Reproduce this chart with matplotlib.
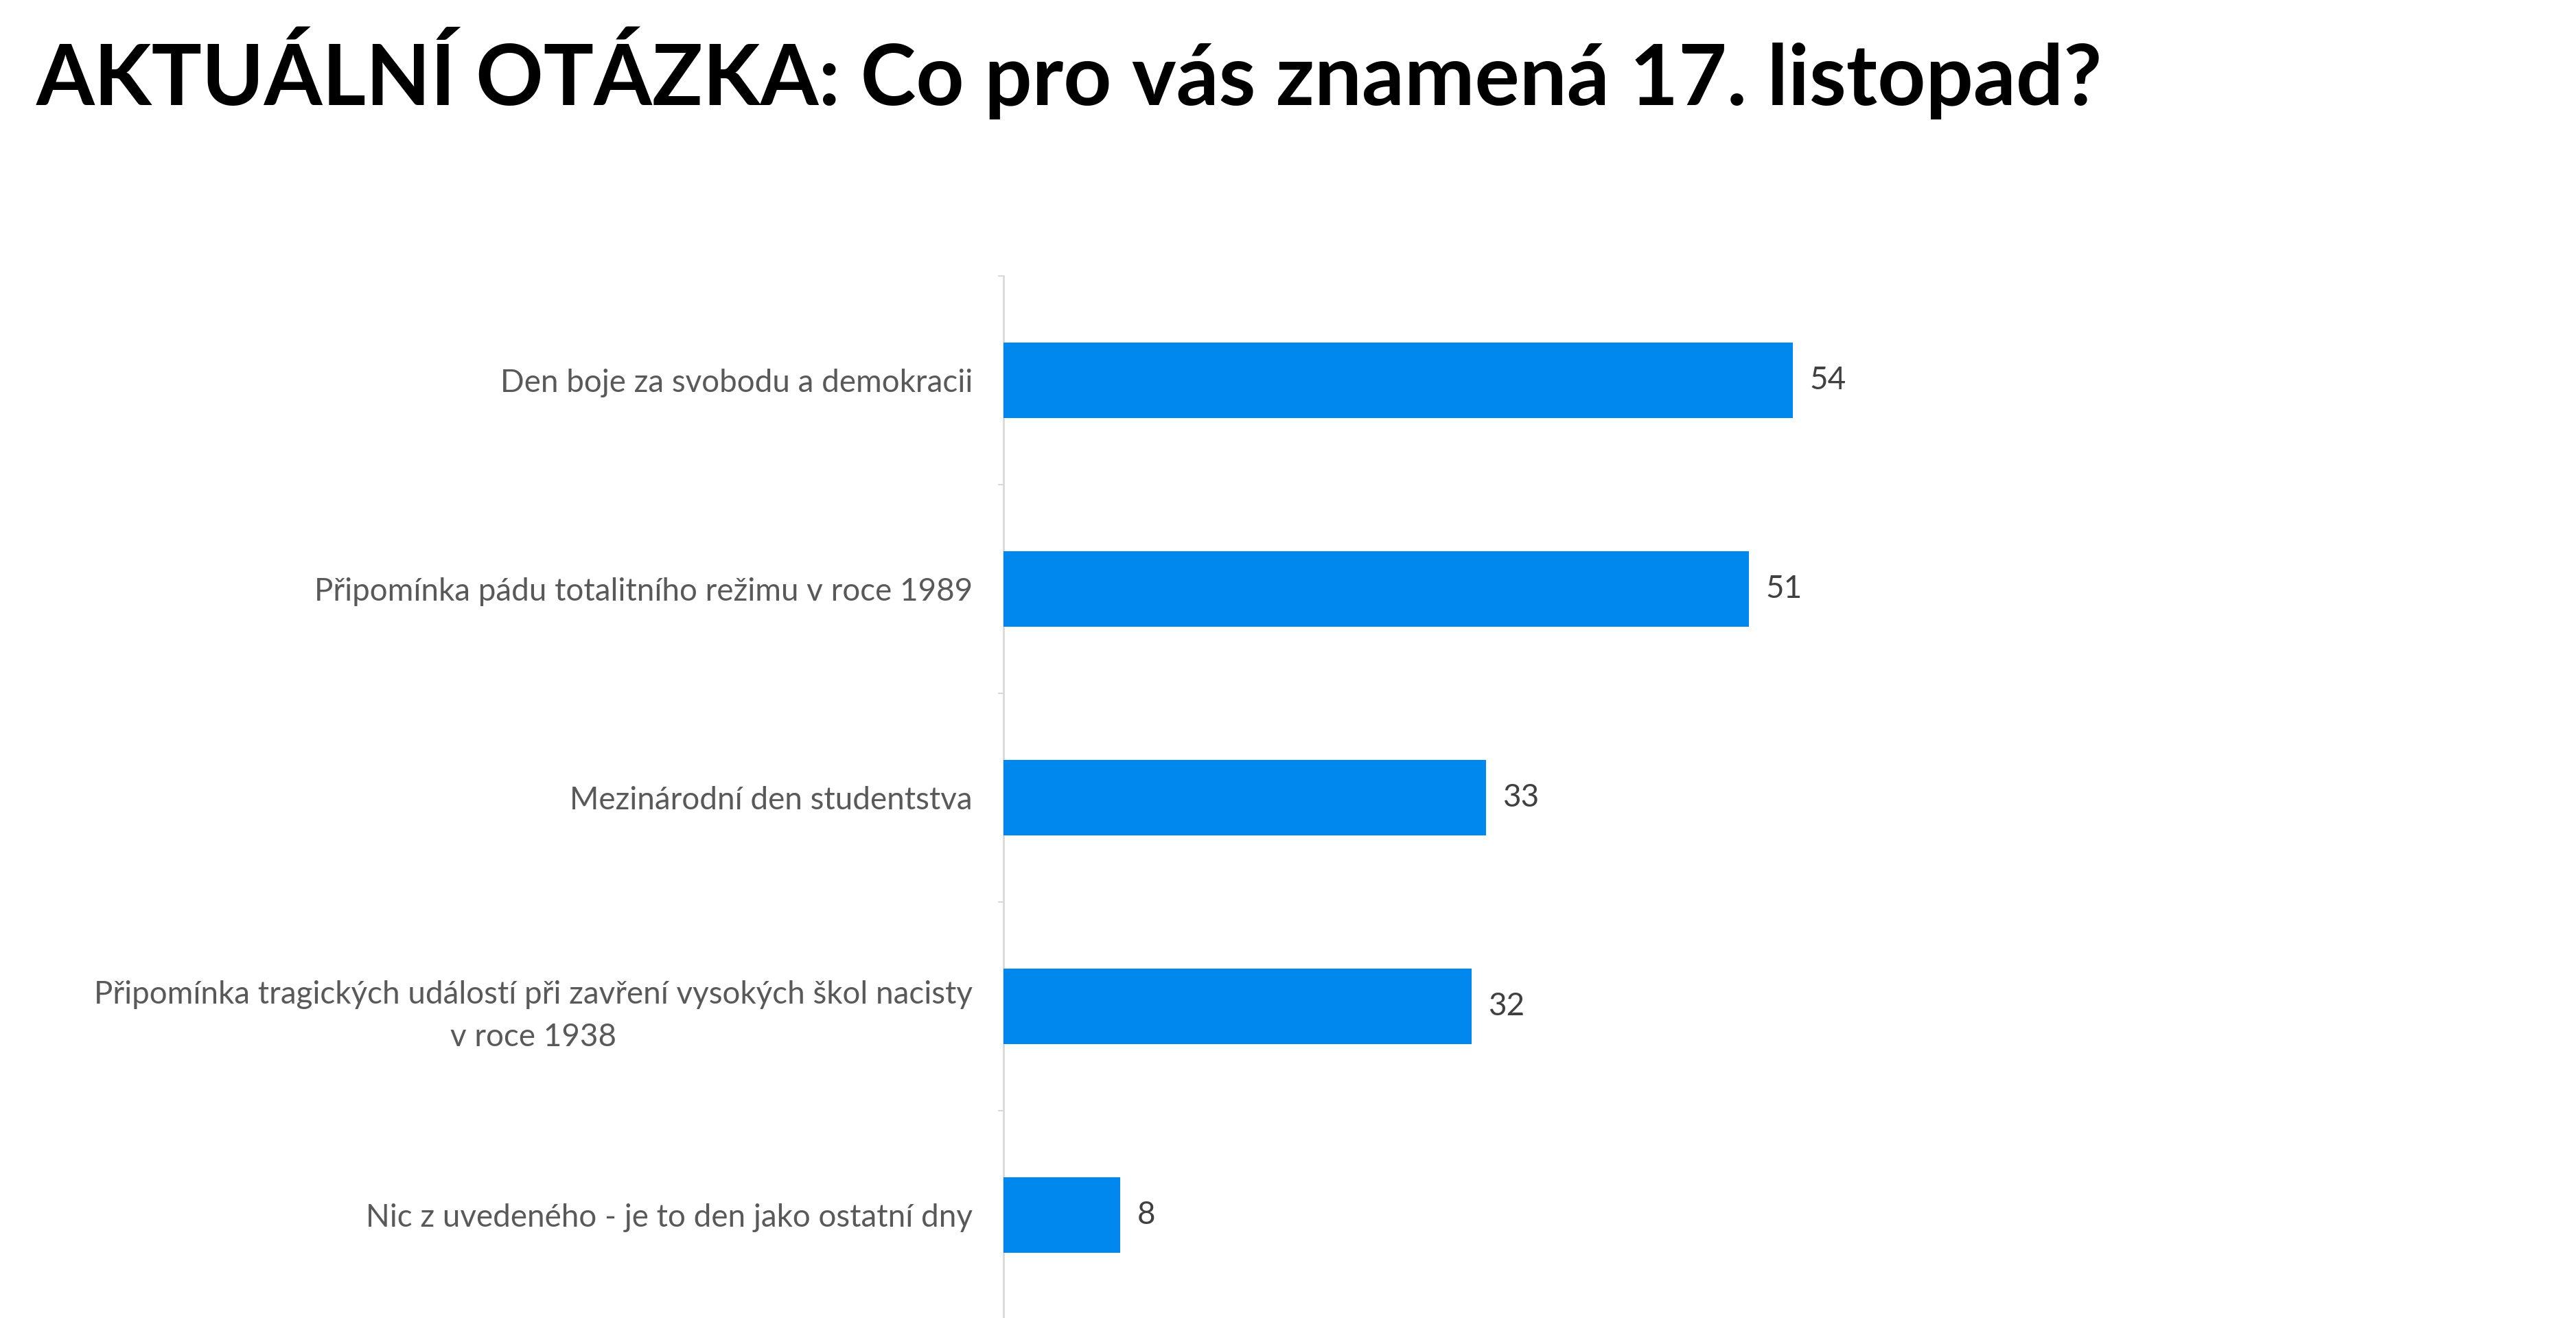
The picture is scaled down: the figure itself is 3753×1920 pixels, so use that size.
import matplotlib
matplotlib.use("Agg")
import matplotlib.pyplot as plt
import numpy as np

categories = [
    "Den boje za svobodu a demokracii",
    "Připomínka pádu totalitního režimu v roce 1989",
    "Mezinárodní den studentstva",
    "Připomínka tragických událostí při zavření vysokých škol nacisty\nv roce 1938",
    "Nic z uvedeného - je to den jako ostatní dny",
]
values = [54, 51, 33, 32, 8]
title = "AKTUÁLNÍ OTÁZKA: Co pro vás znamená 17. listopad?"

W, H, DPI = 3753, 1920, 100
fig = plt.figure(figsize=(W / DPI, H / DPI), dpi=DPI)
fig.patch.set_facecolor("white")
renderer = fig.canvas.get_renderer()

FONT = "Lato"

def fit_size(text, target_px, weight="normal", start=40):
    t = fig.text(0, 0, text, fontsize=start, family=FONT, weight=weight)
    w = t.get_window_extent(renderer=renderer).width
    t.remove()
    return start * target_px / w

# Title
tsize = fit_size(title, 3010, weight="bold", start=80)
fig.text(53 / W, 1 - 153 / H, title, fontsize=tsize, family=FONT,
         weight="bold", color="black", ha="left", va="baseline")

# Axes
left_px, top_px, bottom_px = 1462, 402, 1922
px_per_unit = 21.3
xmax = 100
ax = fig.add_axes([left_px / W, 1 - bottom_px / H,
                   px_per_unit * xmax / W, (bottom_px - top_px) / H])
y = np.arange(len(categories))
ax.barh(y, values, height=0.36, color="#0088EE", zorder=3)
ax.set_xlim(0, xmax)
ax.set_ylim(len(categories) - 0.5, -0.5)

lsize = fit_size(categories[0], 687, start=30)
ax.set_yticks(y)
ax.set_yticklabels(categories, fontsize=lsize, family=FONT, color="#595959",
                   multialignment="center", linespacing=1.6)
ax.tick_params(axis="y", which="major", length=0, pad=45 * 72 / DPI)
ax.set_yticks(np.arange(-0.5, len(categories), 1.0), minor=True)
ax.tick_params(axis="y", which="minor", length=6, width=1.5, color="#d9d9d9")
ax.set_xticks([])

for s in ["top", "right", "bottom"]:
    ax.spines[s].set_visible(False)
ax.spines["left"].set_color("#d9d9d9")
ax.spines["left"].set_linewidth(2)

for yi, v in zip(y, values):
    ax.annotate(str(v), (v, yi), xytext=(24 * 72 / DPI, 0), textcoords="offset points",
                ha="left", va="center", fontsize=lsize, family=FONT, color="#404040")

fig.savefig("out.png", dpi=DPI, facecolor="white")
